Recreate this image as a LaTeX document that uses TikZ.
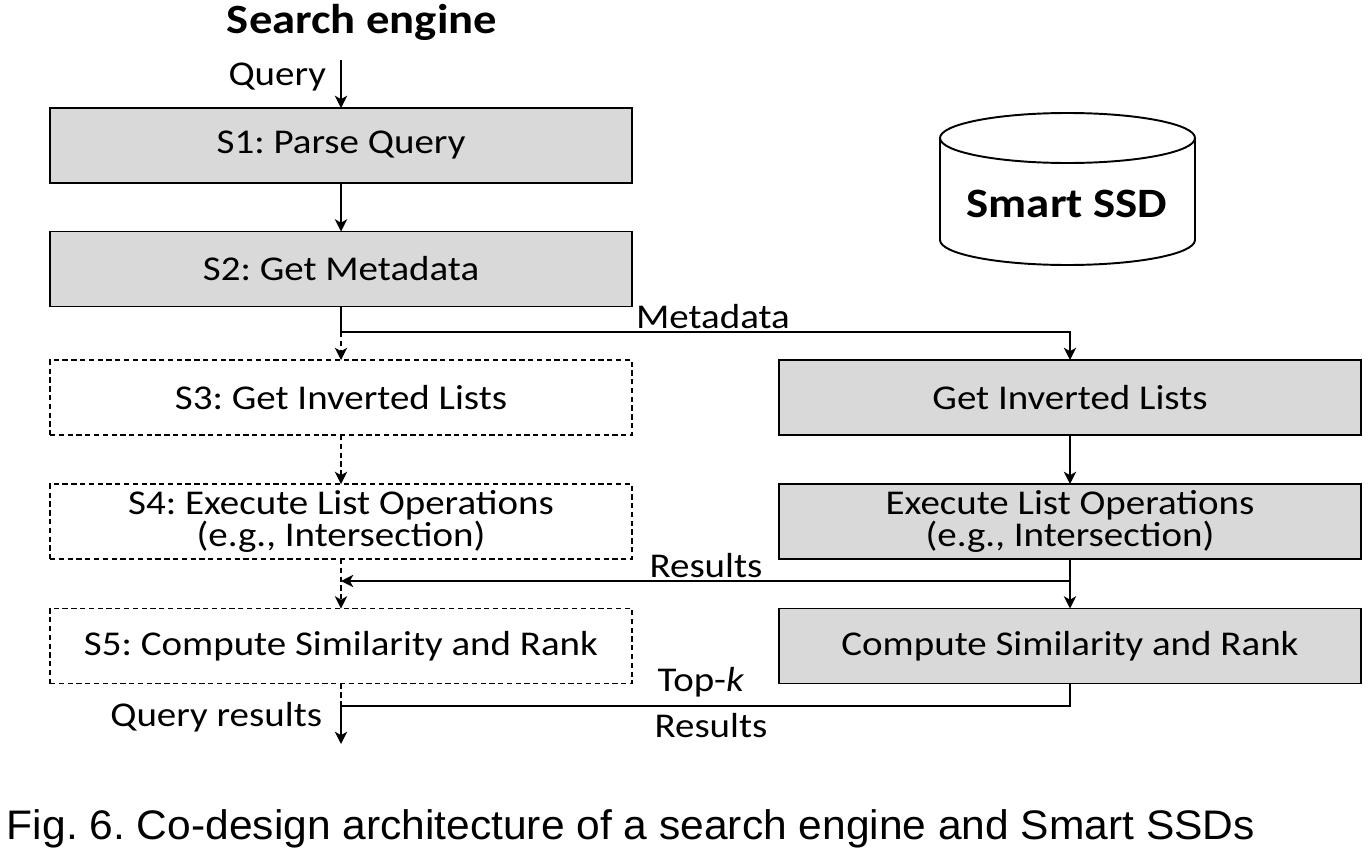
\documentclass[tikz,border=0pt]{standalone}
\usepackage{fontspec}
\setmainfont[FakeStretch=1.12]{Carlito}
\newfontfamily\capfont[FakeStretch=1.03]{Liberation Sans}
\usetikzlibrary{arrows.meta}
\definecolor{boxgray}{HTML}{D9D9D9}
\frenchspacing
\begin{document}
\frenchspacing
\begin{tikzpicture}[x=0.02cm,y=-0.02cm,
  every node/.style={inner sep=0pt,outer sep=0pt},
  txt/.style={font=\fontsize{19.8}{18}\selectfont},
  solidbox/.style={draw,line width=1.1pt,fill=boxgray,minimum width=11.64cm,minimum height=1.5cm,align=center,txt},
  dashbox/.style={draw,line width=0.9pt,dash pattern=on 3pt off 2pt,minimum width=11.64cm,minimum height=1.5cm,align=center,txt},
  conn/.style={line width=1.1pt},
  arr/.style={conn,-{Stealth[length=7pt,width=7pt,inset=2pt]}},
  dconn/.style={line width=0.9pt,dash pattern=on 3pt off 2pt},
  darr/.style={dconn,-{Stealth[length=7pt,width=7pt,inset=2pt]}}
]
\useasboundingbox (0,0) rectangle (1372,862);

% titles
\node[font=\bfseries\fontsize{23.7}{28}\selectfont] (title) at (362,22) {Search engine};
\node[txt,anchor=east] (query) at (326,77) {Query};
\coordinate (qtop) at (341,60);

% left column
\node[solidbox] (s1) at (341,145.5) {S1: Parse Query};
\node[solidbox] (s2) at (341,269) {S2: Get Metadata};
\node[dashbox] (s3) at (341,397.5) {S3: Get Inverted Lists};
\node[dashbox] (s4) at (341,521.5) {S4: Execute List Operations\\(e.g., Intersection)};
\node[dashbox] (s5) at (341,646) {S5: Compute Similarity and Rank};

% right column
\node[solidbox] (g1) at (1070,397.5) {Get Inverted Lists};
\node[solidbox] (g2) at (1070,521.5) {Execute List Operations\\(e.g., Intersection)};
\node[solidbox] (g3) at (1070,646) {Compute Similarity and Rank};

% cylinder
\draw[line width=1.1pt] (940,138) -- (940,240) arc[start angle=180,end angle=360,x radius=2.55cm,y radius=0.5cm] -- (1195,138);
\draw[line width=1.1pt] (1067.5,138) ellipse[x radius=2.55cm,y radius=0.5cm];
\node[font=\bfseries\fontsize{23.8}{28}\selectfont] (ssd) at (1067,204) {Smart SSD};

% connectors
\draw[arr] (qtop) -- (s1.north);
\draw[arr] (s1.south) -- (s2.north);
\coordinate (m1) at (341,332);
\draw[conn] (s2.south) -- (m1);
\draw[darr] (m1) -- (s3.north);
\draw[arr] (m1) -| (g1.north);
\node[txt,anchor=south] (meta) at (713,329) {Metadata};

\draw[darr] (s3.south) -- (s4.north);
\draw[arr] (g1.south) -- (g2.north);
\draw[arr] (g2.south) -- (g3.north);
\coordinate (r1) at (1070,581);
\draw[arr] (r1) -- (r1 -| s4.south);
\node[txt,anchor=south] (res1) at (706,578) {Results};
\draw[darr] (s4.south) -- (s5.north);

\coordinate (t1) at (341,706);
\coordinate (qend) at (341,744);
\draw[dconn] (s5.south) -- (t1);
\draw[conn] (g3.south) |- (t1);
\draw[arr] (t1) -- (qend);
\node[txt,anchor=south] (topk) at (701,697) {Top-\textit{k}};
\node[txt,anchor=north] (res2) at (711,713) {Results};
\node[txt,anchor=east] (qres) at (322,717) {Query results};

% caption
\node[font=\capfont\fontsize{23.5}{27}\selectfont,anchor=west] (cap) at (7,829) {Fig. 6. Co-design architecture of a search engine and Smart SSDs};
\end{tikzpicture}
\end{document}
